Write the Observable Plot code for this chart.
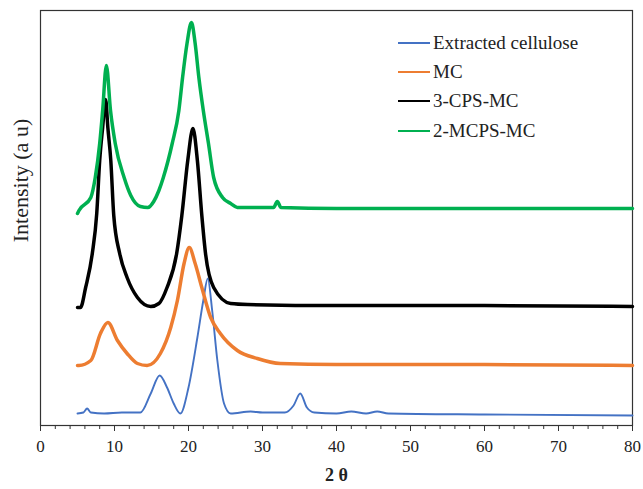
<!DOCTYPE html>
<html>
<head>
<meta charset="utf-8">
<script src="https://cdn.jsdelivr.net/npm/d3@7"></script>
<script src="https://cdn.jsdelivr.net/npm/@observablehq/plot@0.6"></script>
<style>
  html, body { margin: 0; padding: 0; background: #fff; }
  #wrap { position: relative; width: 643px; height: 489px; }
  #wrap svg, #wrap svg text { font-family: "Liberation Serif", "Times New Roman", serif !important; }
  #legend { position: absolute; left: 398px; top: 28px; font-family: "Liberation Serif", "Times New Roman", serif; font-size: 19px; color: #222; }
  .row { display: flex; align-items: center; height: 29.3px; }
  .sw { width: 32px; height: 0; border-top: 2.5px solid; margin-right: 3px; }
</style>
</head>
<body>
<div id="wrap"></div>
<script>
// Series names and colours
const seriesNames = ["Extracted cellulose", "MC", "3-CPS-MC", "2-MCPS-MC"];
const seriesColors = ["#4472C4", "#ED7D31", "#000000", "#00B050"];

// 2θ (degrees) values, with intensity (a.u.)
const cellulose2T = [5.0, 5.8, 6.3, 6.8, 8.6, 11, 13.5, 14.9, 16.1, 17.1, 18.0, 18.9, 20.0, 21.2, 22.0, 22.6, 23.2, 23.9, 24.8, 25.7, 28.4, 30, 33, 34.2, 35.1, 36, 37, 40, 42, 44, 45.5, 47, 60, 80];
const celluloseI  = [12, 13, 17, 13, 12, 13, 13, 32, 50, 38, 22, 12, 38, 88, 125, 147, 115, 65, 22, 12, 14, 13, 13, 20, 32, 18, 13, 12, 14, 12, 14, 12, 11, 10];

const mc2T = [5.0, 5.2, 6.8, 8.1, 9.1, 10.4, 11.7, 13.1, 14.4, 16.2, 17.6, 18.5, 19.4, 20.1, 20.9, 21.8, 23.0, 24.3, 26.6, 29.3, 32.4, 40, 60, 80];
const mcI  = [60, 60, 65, 92, 103, 85, 72, 62, 60, 72, 98, 125, 162, 178, 162, 138, 108, 92, 75, 67, 62, 61, 61, 60];

const cps2T = [5.0, 5.4, 6.1, 7.0, 7.6, 8.0, 8.4, 8.8, 9.1, 9.5, 9.9, 10.7, 11.7, 13.1, 14.9, 16.0, 17.1, 18.4, 19.1, 19.9, 20.6, 21.2, 21.8, 22.3, 23.4, 25.7, 28, 40, 60, 80];
const cpsI  = [118, 118, 138, 172, 212, 265, 298, 326, 298, 265, 210, 172, 148, 128, 119, 122, 138, 172, 210, 265, 297, 265, 210, 172, 138, 122, 121, 120, 120, 119];

const mcps2T = [5.0, 5.2, 6.8, 7.4, 8.0, 8.4, 8.9, 9.46, 10.1, 11.3, 12.2, 13.5, 14.5, 15.3, 16.0, 16.6, 17.8, 18.7, 19.2, 19.8, 20.4, 20.9, 21.4, 22.0, 22.7, 23.4, 24.6, 25.7, 26.6, 31.5, 32, 32.5, 40, 60, 80];
const mcpsI  = [212, 215, 228, 248, 282, 315, 360, 315, 282, 248, 230, 219, 218, 224, 235, 248, 282, 315, 348, 382, 403, 382, 348, 315, 282, 248, 228, 222, 218, 218, 224, 218, 217, 217, 217];

const xTicks = [0, 10, 20, 30, 40, 50, 60, 70, 80];
const xMinorTicks = d3.range(0, 81, 2);

function rows(name, xs, ys) { return xs.map((x, i) => ({series: name, x, y: ys[i]})); }
const data = [
  ...rows(seriesNames[0], cellulose2T, celluloseI),
  ...rows(seriesNames[1], mc2T, mcI),
  ...rows(seriesNames[2], cps2T, cpsI),
  ...rows(seriesNames[3], mcps2T, mcpsI)
];

const widths = {"Extracted cellulose": 1.9, "MC": 3.5, "3-CPS-MC": 3.5, "2-MCPS-MC": 3.5};
const serif = "Liberation Serif";

const chart = Plot.plot({
  width: 643,
  height: 489,
  marginTop: 10,
  marginRight: 11,
  marginBottom: 64,
  marginLeft: 40,
  style: {fontFamily: serif, fontSize: "16px", color: "#222", background: "#fff"},
  x: {domain: [0, 80]},
  y: {domain: [0, 415], axis: null},
  color: {domain: seriesNames, range: seriesColors},
  marks: [
    Plot.frame({stroke: "#333", strokeWidth: 1.2}),
    Plot.axisX(xMinorTicks, {tickSize: 4, tickFormat: () => "", label: null, stroke: "#333"}),
    Plot.axisX(xTicks, {tickSize: 6, tickPadding: 8, label: null, fontSize: 17, fontFamily: serif, stroke: "#333"}),
    ...seriesNames.map(name => Plot.line(data.filter(d => d.series === name), {
      x: "x", y: "y", stroke: "series", strokeWidth: widths[name], curve: "monotone-x"
    })),
    Plot.text(["2 θ"], {frameAnchor: "bottom", dy: 55, fontWeight: "bold", fontSize: 18, fontFamily: serif}),
    Plot.text(["Intensity (a u)"], {frameAnchor: "left", y: 245, dx: -20, rotate: -90, textAnchor: "middle", fontSize: 22, fontFamily: serif})
  ]
});

const wrap = document.getElementById("wrap");
wrap.appendChild(chart);

const legend = document.createElement("div");
legend.id = "legend";
seriesNames.forEach((name, i) => {
  const row = document.createElement("div");
  row.className = "row";
  const sw = document.createElement("span");
  sw.className = "sw";
  sw.style.borderColor = seriesColors[i];
  const t = document.createElement("span");
  t.textContent = name;
  row.appendChild(sw);
  row.appendChild(t);
  legend.appendChild(row);
});
wrap.appendChild(legend);
</script>
</body>
</html>
